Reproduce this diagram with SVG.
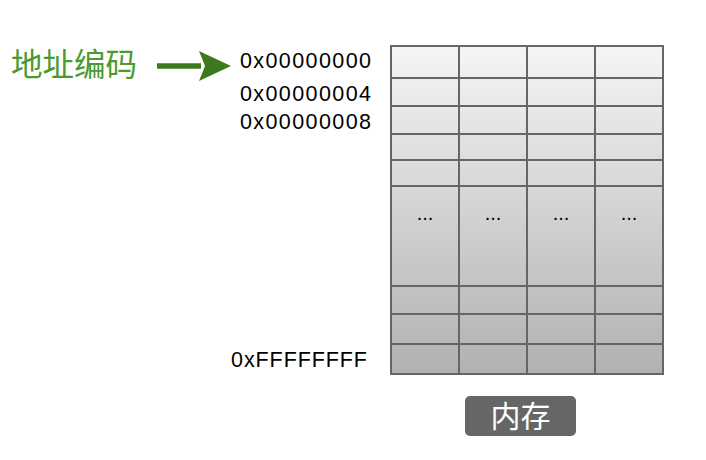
<svg xmlns="http://www.w3.org/2000/svg" width="706" height="460" viewBox="0 0 706 460">
  <defs>
    <linearGradient id="memGrad" gradientUnits="userSpaceOnUse" x1="0" y1="46" x2="0" y2="374">
      <stop offset="0" stop-color="#f5f5f5"/>
      <stop offset="1" stop-color="#b1b1b1"/>
    </linearGradient>
    <marker id="arrowHead" viewBox="0 0 32 30" refX="2" refY="15" markerUnits="userSpaceOnUse" markerWidth="32" markerHeight="30" orient="auto">
      <path d="M0,0 L32,15 L0,30 L6,15 Z" fill="#3d7a1d"/>
    </marker>
  </defs>
  <style>
    .grid { fill: none; stroke: #666666; stroke-width: 2; }
    .addr { font-family: "Liberation Sans", Arial, sans-serif; font-size: 21.5px; fill: #000000; }
    .dots { font-family: "Liberation Sans", Arial, sans-serif; font-size: 20px; fill: #000000; text-anchor: middle; }
    .title { font-family: "Noto Sans CJK SC", "Noto Sans", sans-serif; font-size: 31.5px; fill: #4a9a2d; }
    .label { font-family: "Noto Sans CJK SC", "Noto Sans", sans-serif; font-size: 30px; fill: #ffffff; text-anchor: middle; }
  </style>

  <g id="memory">
    <rect x="391" y="46" width="272" height="328" fill="url(#memGrad)"/>
    <g class="grid">
      <rect x="391" y="46" width="272" height="328"/>
      <path d="M459,46 V374 M527,46 V374 M595,46 V374"/>
      <path d="M391,78 H663 M391,106 H663 M391,134 H663 M391,160 H663 M391,186 H663 M391,286 H663 M391,314 H663 M391,344 H663"/>
    </g>
    <text class="dots" x="425" y="220">...</text>
    <text class="dots" x="493" y="220">...</text>
    <text class="dots" x="561" y="220">...</text>
    <text class="dots" x="629" y="220">...</text>
  </g>

  <g id="addresses">
    <text class="addr" x="240" y="68" textLength="131" lengthAdjust="spacing">0x00000000</text>
    <text class="addr" x="240" y="101" textLength="131" lengthAdjust="spacing">0x00000004</text>
    <text class="addr" x="240" y="129" textLength="131" lengthAdjust="spacing">0x00000008</text>
    <text class="addr" x="231" y="367" textLength="136" lengthAdjust="spacing">0xFFFFFFFF</text>
  </g>

  <g id="address-encoding">
    <text class="title" x="11" y="76">地址编码</text>
  </g>

  <g id="connectors">
    <line x1="157" y1="66" x2="201" y2="66" stroke="#3d7a1d" stroke-width="5.5" marker-end="url(#arrowHead)"/>
  </g>

  <g id="memory-label">
    <rect x="465" y="396" width="111" height="40" rx="5" fill="#666666"/>
    <text class="label" x="520.5" y="426.5">内存</text>
  </g>
</svg>
